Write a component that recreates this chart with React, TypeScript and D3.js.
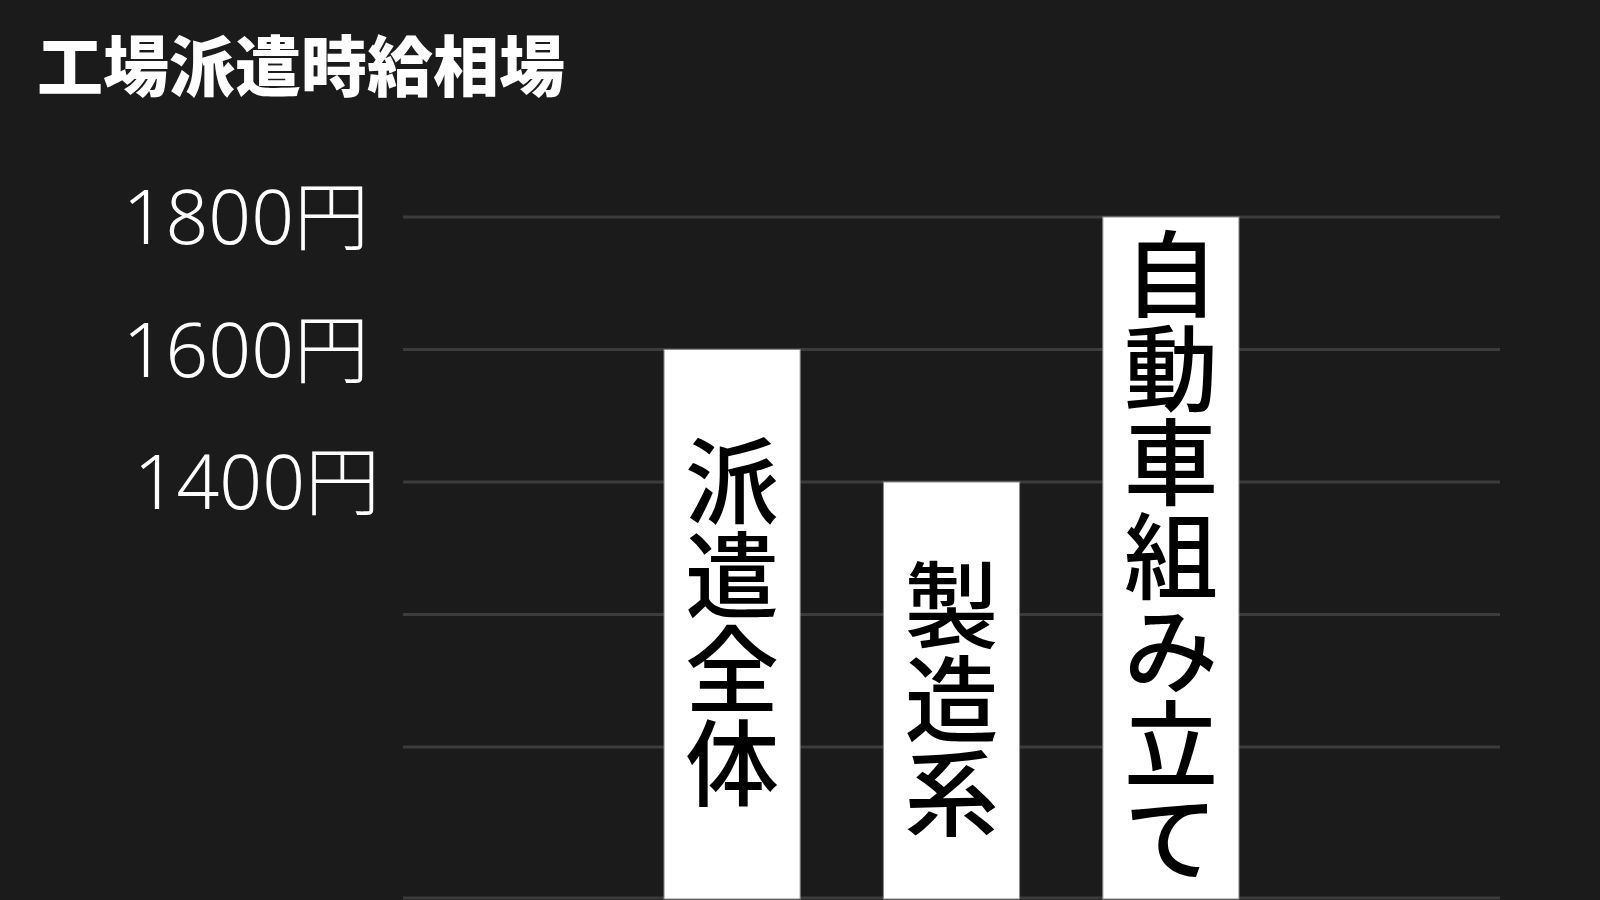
import { useEffect, useRef } from 'react';
import * as d3 from 'd3';

const TITLE = '工場派遣時給相場';

// bars (hourly wage, yen)
const CATEGORIES = ['派遣全体', '製造系', '自動車組み立て'];
const WAGES = [1600, 1400, 1800];

// the band axis has an empty slot on each side of the three bars
const SLOTS = ['left', ...CATEGORIES, 'right'];

const GRID_VALUES = [1000, 1200, 1400, 1600, 1800];
const TICK_VALUES = [1800, 1600, 1400];
const TICK_LABELS = ['1800円', '1600円', '1400円'];

const W = 1600;
const H = 900;
const PLOT = { left: 403, right: 1500, top: 217, bottom: 899 };
const BG = '#1b1b1b';
const GRID = '#3c3c3c';
const FONT = '"Noto Sans CJK JP", "Noto Sans", sans-serif';
const TICK_FONT = '"Noto Sans", "Open Sans", "Noto Sans CJK JP", sans-serif';

export default function App() {
  const svgRef = useRef<SVGSVGElement>(null);

  useEffect(() => {
    const svg = d3.select(svgRef.current);
    svg.selectAll('*').remove();

    const x = d3
      .scaleBand<string>()
      .domain(SLOTS)
      .range([PLOT.left, PLOT.right])
      .paddingInner(0.375)
      .paddingOuter(0.1875);

    const y = d3.scaleLinear().domain([1000, 1800]).range([747, PLOT.top]);

    svg.append('rect').attr('width', W).attr('height', H).attr('fill', BG);

    svg
      .append('text')
      .attr('x', 37)
      .attr('y', 91)
      .attr('fill', '#ffffff')
      .attr('font-family', FONT)
      .attr('font-weight', 900)
      .attr('font-size', 66)
      .text(TITLE);

    // grid lines + bottom line
    const grid = svg.append('g');
    grid
      .selectAll('line.grid')
      .data(GRID_VALUES)
      .join('line')
      .attr('class', 'grid')
      .attr('x1', PLOT.left)
      .attr('x2', PLOT.right)
      .attr('y1', (d) => y(d))
      .attr('y2', (d) => y(d))
      .attr('stroke', GRID)
      .attr('stroke-width', 3);
    grid
      .append('line')
      .attr('x1', PLOT.left)
      .attr('x2', PLOT.right)
      .attr('y1', PLOT.bottom - 1)
      .attr('y2', PLOT.bottom - 1)
      .attr('stroke', GRID)
      .attr('stroke-width', 3);

    // tick labels (the 1400 one sits a little further right in the original)
    svg
      .append('g')
      .selectAll('text')
      .data(TICK_VALUES)
      .join('text')
      .attr('x', (d) => (d === 1400 ? 380 : 369))
      .attr('y', (d) => y(d))
      .attr('dy', '0.36em')
      .attr('text-anchor', 'end')
      .attr('fill', '#ffffff')
      .attr('font-family', TICK_FONT)
      .attr('font-weight', 300)
      .attr('font-size', 75)
      .text((_, i) => TICK_LABELS[i]);

    // bars
    const bars = svg
      .append('g')
      .selectAll('g')
      .data(CATEGORIES.map((c, i) => ({ c, v: WAGES[i] })))
      .join('g');

    bars
      .append('rect')
      .attr('x', (d) => x(d.c)! + 0.5)
      .attr('y', (d) => y(d.v))
      .attr('width', x.bandwidth() - 1)
      .attr('height', (d) => PLOT.bottom - y(d.v))
      .attr('fill', '#ffffff')
      .attr('stroke', '#8a8a8a')
      .attr('stroke-width', 1);

    // vertical labels, one glyph per line, centred in the bar
    const em = 94;
    bars.each(function (d) {
      const chars = Array.from(d.c);
      const cx = x(d.c)! + x.bandwidth() / 2;
      const mid = (y(d.v) + PLOT.bottom) / 2;
      const top = mid - (chars.length * em) / 2;
      d3.select(this)
        .selectAll('text')
        .data(chars)
        .join('text')
        .attr('x', cx)
        .attr('y', (_, i) => top + (i + 0.5) * em)
        .attr('dy', chars.length === 3 ? '0.47em' : '0.36em')
        .attr('text-anchor', 'middle')
        .attr('fill', '#000000')
        .attr('font-family', FONT)
        .attr('font-weight', 500)
        .attr('font-size', em)
        .text((ch) => ch);
    });
  }, []);

  return (
    <svg
      ref={svgRef}
      width={W}
      height={H}
      style={{ position: 'absolute', left: 0, top: 0, display: 'block' }}
    />
  );
}
